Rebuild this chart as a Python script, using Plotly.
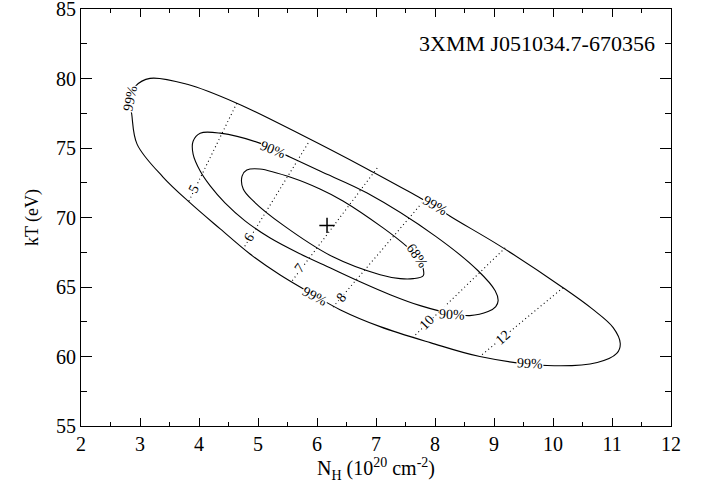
import plotly.graph_objects as go

# ---- confidence contours (N_H in 1e20 cm^-2, kT in eV) ----
C99_NH = [8.00, 8.25, 9.10, 10.17, 10.66, 11.02, 11.14, 11.08, 10.75, 9.90, 8.76, 7.92, 7.07, 6.39,
          5.88, 5.37, 4.86, 4.36, 3.85, 3.39, 2.95, 2.86, 2.83, 2.92, 3.17, 3.80,
          4.64, 5.71, 6.85, 7.75, 8.00]
C99_KT = [70.83, 70.11, 67.96, 64.95, 63.44, 62.08, 60.93, 60.22, 59.57, 59.35, 60.00, 61.00, 62.15, 63.37,
          64.59, 65.88, 67.39, 69.18, 71.05, 72.91, 75.28, 77.43, 78.58, 79.44, 80.01, 79.58,
          78.22, 76.00, 73.49, 71.41, 70.83]

C90_NH = [8.29, 8.59, 8.90, 9.03, 9.07, 9.02, 8.73, 8.00, 6.85, 6.05, 5.54, 5.03, 4.36, 4.02,
          3.90, 3.90, 4.02, 4.19, 4.44, 4.78, 5.20, 5.71, 6.22, 6.73, 7.24, 7.75, 8.29]
C90_KT = [63.08, 62.94, 63.23, 63.59, 64.02, 64.73, 66.17, 68.68, 71.76, 73.34, 74.35, 75.35, 76.07, 76.07,
          75.49, 74.56, 73.34, 72.27, 71.05, 69.76, 68.54, 67.39, 66.38, 65.38, 64.45, 63.66, 63.08]

C68_NH = [7.69, 7.80, 7.80, 7.63, 7.41, 7.07, 6.27, 5.42, 4.92, 4.75, 4.73, 4.81, 5.03, 5.59,
          6.05, 6.44, 7.12, 7.53, 7.69]
C68_KT = [67.25, 66.31, 65.81, 65.60, 65.60, 65.88, 67.17, 69.47, 71.19, 72.05, 72.98, 73.41, 73.49, 72.84,
          72.05, 71.19, 69.25, 67.89, 67.25]

# best fit
BEST_NH = [6.17]
BEST_KT = [69.43]

# dotted iso-lines
ISO_LABELS = ["5", "6", "7", "8", "10", "12"]
ISO_NH_START = [4.64, 5.85, 7.02, 7.78, 9.19, 10.17]
ISO_KT_START = [78.22, 75.35, 73.56, 71.05, 67.82, 64.95]
ISO_NH_END = [3.82, 4.75, 5.58, 6.27, 7.63, 8.76]
ISO_KT_END = [71.10, 67.75, 65.45, 63.55, 61.40, 60.00]

# label placement
ISO_LAB_NH = [3.90, 4.85, 5.71, 6.41, 7.86, 9.15]
ISO_LAB_KT = [72.05, 68.54, 66.38, 64.23, 62.44, 61.36]
ISO_LAB_ANG = [-64, -58, -53, -50, -45, -41]

CONT_LAB_TEXT = ["99%", "90%", "99%", "68%", "90%", "99%", "99%"]
CONT_LAB_NH = [2.83, 5.25, 8.00, 7.69, 8.29, 5.97, 9.61]
CONT_LAB_KT = [78.58, 74.88, 70.83, 67.25, 63.05, 64.35, 59.50]
CONT_LAB_ANG = [-78, 22, 30, 55, 3, 28, 3]

FONT = "Liberation Serif"

fig = go.Figure()

for nh, kt in [(C99_NH, C99_KT), (C90_NH, C90_KT), (C68_NH, C68_KT)]:
    fig.add_trace(go.Scatter(x=nh, y=kt, mode="lines",
                             line=dict(color="black", width=1.1, shape="spline", smoothing=1.0),
                             hoverinfo="skip", showlegend=False))

for x0, y0, x1, y1 in zip(ISO_NH_START, ISO_KT_START, ISO_NH_END, ISO_KT_END):
    fig.add_trace(go.Scatter(x=[x0, x1], y=[y0, y1], mode="lines",
                             line=dict(color="black", width=1.1, dash="1px,3px"),
                             hoverinfo="skip", showlegend=False))

fig.add_trace(go.Scatter(x=BEST_NH, y=BEST_KT, mode="markers",
                         marker=dict(symbol="cross-thin", size=11, color="black",
                                     line=dict(color="black", width=1.5)),
                         showlegend=False))

for t, x, y, a in zip(ISO_LABELS, ISO_LAB_NH, ISO_LAB_KT, ISO_LAB_ANG):
    fig.add_annotation(x=x, y=y, text=t, textangle=a, showarrow=False,
                       font=dict(family=FONT, size=14, color="black"),
                       bgcolor="white", borderpad=0)

for t, x, y, a in zip(CONT_LAB_TEXT, CONT_LAB_NH, CONT_LAB_KT, CONT_LAB_ANG):
    fig.add_annotation(x=x, y=y, text=t, textangle=a, showarrow=False,
                       font=dict(family=FONT, size=14, color="black"),
                       bgcolor="white", borderpad=0)

fig.add_annotation(x=11.76, y=82.5, xanchor="right", yanchor="middle",
                   text="3XMM J051034.7-670356", showarrow=False,
                   font=dict(family=FONT, size=22, color="black"))

axis_common = dict(showline=True, linecolor="black", linewidth=1, mirror="ticks",
                   ticks="inside", tickcolor="black", tickwidth=1, showgrid=False,
                   zeroline=False, ticklabeloverflow="allow",
                   tickfont=dict(family=FONT, size=20, color="black"))

fig.update_xaxes(range=[2, 12], tickmode="linear", tick0=2, dtick=1, ticklen=8,
                 minor=dict(dtick=0.5, ticklen=4, ticks="inside", tickcolor="black", showgrid=False),
                 title=dict(text="N<sub>H</sub> (10<sup>20</sup> cm<sup>-2</sup>)",
                            font=dict(family=FONT, size=20, color="black"), standoff=4),
                 **axis_common)
fig.update_yaxes(range=[55, 85], tickmode="linear", tick0=55, dtick=5, ticklen=11,
                 minor=dict(dtick=2.5, ticklen=6, ticks="inside", tickcolor="black", showgrid=False),
                 title=dict(text="kT (eV)", font=dict(family=FONT, size=18, color="black"), standoff=12),
                 **axis_common)

fig.update_layout(width=708, height=486, margin=dict(l=81, r=37, t=9, b=60, autoexpand=False),
                  plot_bgcolor="white", paper_bgcolor="white")

fig.write_html("out.html")
